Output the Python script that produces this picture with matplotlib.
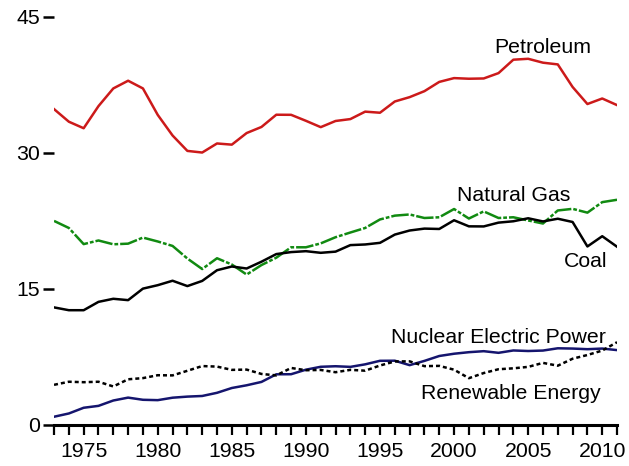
import numpy as np
import matplotlib
matplotlib.use('Agg')
import matplotlib.pyplot as plt

plt.rcParams['font.family'] = ['Liberation Sans', 'DejaVu Sans']

years = list(range(1973, 2012))

petroleum = [34.84, 33.45, 32.73, 35.17, 37.12, 37.97, 37.12, 34.20, 31.93, 30.23,
             30.05, 31.05, 30.92, 32.20, 32.87, 34.22, 34.21, 33.55, 32.85, 33.53,
             33.74, 34.56, 34.44, 35.68, 36.16, 36.82, 37.84, 38.26, 38.19, 38.22,
             38.81, 40.29, 40.39, 39.96, 39.77, 37.28, 35.40, 36.01, 35.28]

natural_gas = [22.51, 21.73, 19.95, 20.35, 19.93, 20.00, 20.67, 20.24, 19.75, 18.36,
               17.20, 18.39, 17.70, 16.59, 17.64, 18.45, 19.60, 19.60, 20.03, 20.71,
               21.23, 21.73, 22.67, 23.09, 23.22, 22.83, 22.91, 23.82, 22.77, 23.56,
               22.83, 22.91, 22.56, 22.22, 23.66, 23.84, 23.42, 24.58, 24.84]

coal = [12.97, 12.66, 12.66, 13.58, 13.92, 13.77, 15.04, 15.42, 15.91, 15.32,
        15.89, 17.07, 17.48, 17.26, 18.01, 18.85, 19.07, 19.17, 18.99, 19.12,
        19.84, 19.91, 20.09, 21.00, 21.45, 21.66, 21.62, 22.58, 21.91, 21.90,
        22.32, 22.47, 22.80, 22.45, 22.75, 22.39, 19.69, 20.82, 19.66]

nuclear = [0.91, 1.27, 1.90, 2.11, 2.70, 3.02, 2.78, 2.74, 3.01, 3.13,
           3.20, 3.55, 4.08, 4.38, 4.75, 5.59, 5.60, 6.10, 6.42, 6.48,
           6.41, 6.69, 7.08, 7.09, 6.60, 7.07, 7.61, 7.86, 8.03, 8.14,
           7.96, 8.22, 8.16, 8.21, 8.46, 8.43, 8.36, 8.43, 8.26]

renewable = [4.43, 4.77, 4.72, 4.77, 4.25, 5.04, 5.17, 5.49, 5.47, 5.98,
             6.50, 6.44, 6.08, 6.11, 5.63, 5.47, 6.29, 6.04, 6.07, 5.82,
             6.08, 5.99, 6.56, 7.01, 7.02, 6.49, 6.52, 6.10, 5.16, 5.73,
             6.15, 6.25, 6.41, 6.85, 6.54, 7.31, 7.72, 8.21, 9.13]

fig = plt.figure(figsize=(6.29, 4.66), dpi=100)
ax = fig.add_axes([0.0859, 0.088, 0.8951, 0.895])

lw = 1.8
ax.plot(years, petroleum, color='#cc1a1a', linewidth=lw)
ax.plot(years, natural_gas, color='#118a11', linewidth=lw, dashes=(7, 0.8, 1.5, 0.8))
ax.plot(years, coal, color='black', linewidth=lw)
ax.plot(years, nuclear, color='#15156e', linewidth=lw)
ax.plot(years, renewable, color='black', linewidth=lw, dashes=(1.6, 1.2))

fs = 15.3
ax.text(2006.0, 41.6, 'Petroleum', fontsize=fs, ha='center', va='center')
ax.text(2004.0, 25.3, 'Natural Gas', fontsize=fs, ha='center', va='center')
ax.text(2008.9, 18.0, 'Coal', fontsize=fs, ha='center', va='center')
ax.text(2003.0, 9.7, 'Nuclear Electric Power', fontsize=fs, ha='center', va='center')
ax.text(2003.85, 3.5, 'Renewable Energy', fontsize=fs, ha='center', va='center')

ax.set_xlim(1973, 2011)
ax.set_ylim(0, 46)
ax.set_yticks([0, 15, 30, 45])
ax.set_xticks([1975, 1980, 1985, 1990, 1995, 2000, 2005, 2010])
ax.set_xticks(years, minor=True)

for s in ['top', 'right', 'left']:
    ax.spines[s].set_visible(False)
ax.spines['bottom'].set_linewidth(2.2)

ax.tick_params(axis='y', direction='out', length=8, width=1.8, pad=2, labelsize=fs)
ax.tick_params(axis='x', which='both', direction='out', length=7, width=1.6, pad=5, labelsize=fs)

fig.savefig('out.png', dpi=100)
